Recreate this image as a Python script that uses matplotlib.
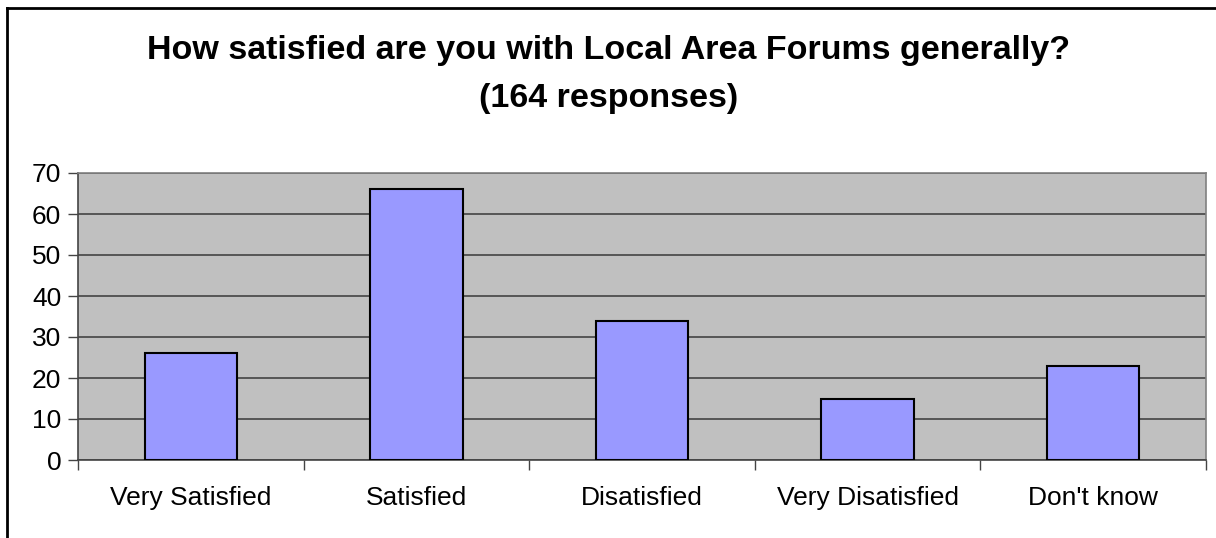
import matplotlib
matplotlib.use('Agg')
import matplotlib.pyplot as plt
from matplotlib.lines import Line2D

categories = ['Very Satisfied', 'Satisfied', 'Disatisfied', 'Very Disatisfied', "Don't know"]
responses = [26, 66, 34, 15, 23]
yticks = [0, 10, 20, 30, 40, 50, 60, 70]

plt.rcParams['font.family'] = ['Liberation Sans', 'DejaVu Sans']

W, H = 1216, 538
fig = plt.figure(figsize=(W / 100, H / 100), dpi=100)
fig.patch.set_facecolor('white')

# plot area in pixels: x 78..1206, y 173..460
ax = fig.add_axes([78 / W, 1 - 460 / H, (1206 - 78) / W, (460 - 173) / H])
ax.set_facecolor('#c0c0c0')

x = list(range(len(categories)))
ax.bar(x, responses, width=0.41, color='#9999ff', edgecolor='black', linewidth=1.5, zorder=3)

ax.set_xlim(-0.5, len(categories) - 0.5)
ax.set_ylim(0, 70)
ax.set_yticks(yticks)
ax.set_yticklabels([str(v) for v in yticks], fontsize=19)
ax.yaxis.grid(True, color='#444444', linewidth=1.2, zorder=1)

ax.set_xticks([i - 0.5 for i in range(len(categories) + 1)], minor=False)
ax.set_xticklabels([''] * (len(categories) + 1))
ax.set_xticks(x, minor=True)
ax.set_xticklabels(categories, minor=True, fontsize=19)
ax.tick_params(axis='x', which='minor', length=0, pad=19)
ax.tick_params(axis='x', which='major', length=7, width=1, color='#444444', direction='out')
ax.tick_params(axis='y', length=7, width=1, color='#444444', pad=5)

for side in ['top', 'right']:
    ax.spines[side].set_color('#808080')
    ax.spines[side].set_linewidth(1.2)
for side in ['left', 'bottom']:
    ax.spines[side].set_color('#444444')
    ax.spines[side].set_linewidth(1.2)

fig.text(609 / W, 1 - 50 / H, 'How satisfied are you with Local Area Forums generally?',
         ha='center', va='center', fontsize=24.5, fontweight='bold')
fig.text(609 / W, 1 - 98 / H, '(164 responses)',
         ha='center', va='center', fontsize=24.5, fontweight='bold')

# outer chart border (top and left visible)
fig.add_artist(Line2D([7 / W, 1], [1 - 8 / H, 1 - 8 / H], color='black', linewidth=2))
fig.add_artist(Line2D([7 / W, 7 / W], [0, 1 - 8 / H], color='black', linewidth=2))

fig.savefig('out.png', dpi=100)
